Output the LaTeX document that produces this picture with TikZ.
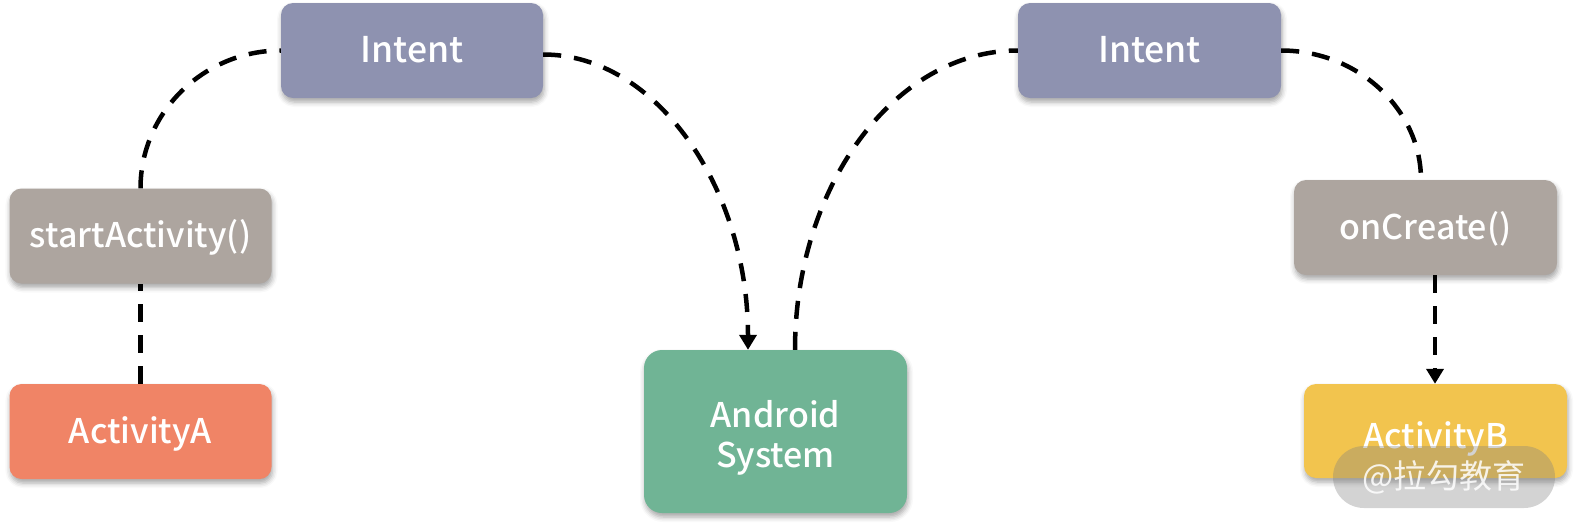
\documentclass[tikz,border=0pt]{standalone}
\usepackage{fontspec}
\setmainfont{Noto Sans CJK SC}
\newfontfamily\boxfont{Noto Sans CJK SC Medium}
\usetikzlibrary{arrows.meta,shadows.blur}
\definecolor{cIntent}{HTML}{8E92B0}
\definecolor{cCall}{HTML}{ADA59F}
\definecolor{cActA}{HTML}{F08466}
\definecolor{cAndroid}{HTML}{70B495}
\definecolor{cActB}{HTML}{F2C44E}
\begin{document}
\begin{tikzpicture}[x=1pt,y=-1pt,
  box/.style={rounded corners=12pt, inner sep=0pt, text=white, align=center,
    font=\boxfont\fontsize{34}{40}\selectfont, text height=33pt, text depth=10pt,
    blur shadow={shadow xshift=1pt, shadow yshift=-4pt, shadow blur radius=5pt, shadow opacity=35}},
  conn/.style={line width=4.5pt, dash pattern=on 18pt off 13pt},
  tip/.style={-{Triangle[width=17pt,length=15pt]}}]
\useasboundingbox (0,0) rectangle (1576,530);
\node[box, fill=cIntent, minimum width=262pt, minimum height=95pt, font=\boxfont\fontsize{35.5}{40}\selectfont] (i1) at (412,50.5) {Intent};
\node[box, fill=cIntent, minimum width=263pt, minimum height=95pt, font=\boxfont\fontsize{35.5}{40}\selectfont] (i2) at (1149.5,50.5) {Intent};
\node[box, fill=cCall, minimum width=262pt, minimum height=95pt] (sa) at (140.5,236) {startActivity()};
\node[box, fill=cActA, minimum width=262pt, minimum height=95pt] (aa) at (140.5,431.5) {ActivityA};
\node[box, fill=cAndroid, minimum width=263pt, minimum height=163pt, rounded corners=18pt, text height=73pt, text depth=2pt] (as) at (775.5,431.5) {Android\\System};
\node[box, fill=cCall, minimum width=263pt, minimum height=95pt] (oc) at (1425.5,227.5) {onCreate()};
\node[box, fill=cActB, minimum width=263pt, minimum height=94pt, text height=35pt, text depth=1pt] (ab) at (1435.5,431) {ActivityB};
\coordinate (saT) at (sa.north);
\coordinate (asIn) at ([xshift=-27.5pt]as.north);
\coordinate (asOut) at ([xshift=19.5pt]as.north);
\coordinate (ocIn) at ([xshift=-4.5pt]oc.north);
\coordinate (ocOut) at ([xshift=9.5pt]oc.south);
\draw[conn] (saT) .. controls ++(0,-76) and ++(-77,0) .. (i1.west);
\draw[conn] (aa.north) -- (sa.south);
\draw[conn, tip] ([yshift=-4pt]i1.east) .. controls ++(113,0) and ++(0,-162) .. (asIn);
\draw[conn] (asOut) .. controls ++(0,-164) and ++(-123,0) .. (i2.west);
\draw[conn] (i2.east) .. controls ++(77,0) and ++(0,-70) .. (ocIn);
\draw[conn, tip] (ocOut) -- (ocOut |- ab.north);
\node[fill=gray, fill opacity=0.35, text opacity=0.85, text=white, rounded corners=31pt,
  minimum width=222pt, minimum height=62pt, inner sep=0pt,
  font=\fontsize{33}{36}\selectfont] (wm) at (1444,477) {@拉勾教育};
\end{tikzpicture}
\end{document}
